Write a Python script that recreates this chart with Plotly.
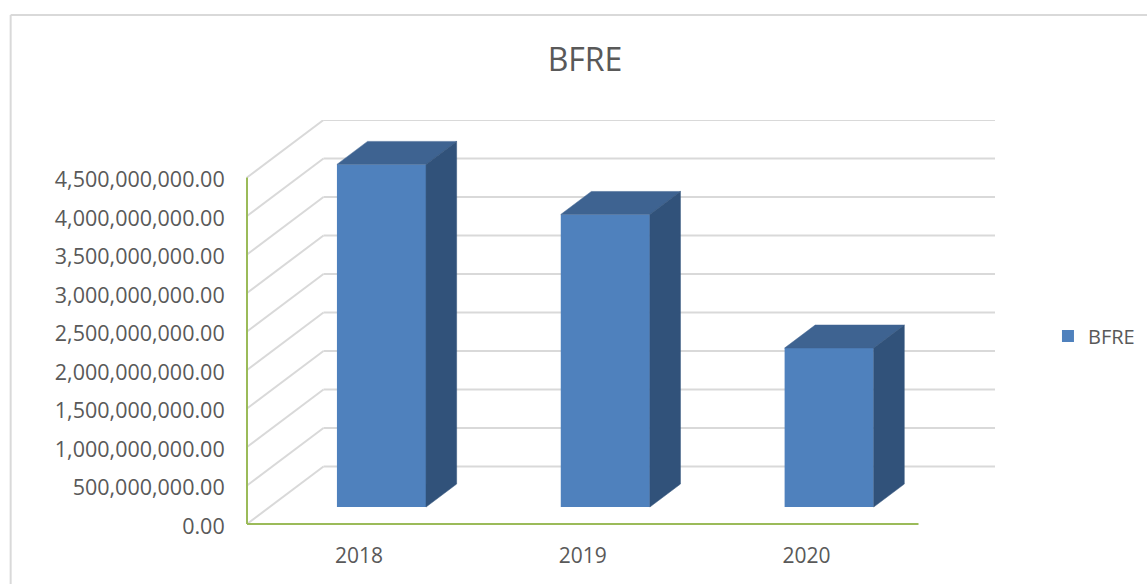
import plotly.graph_objects as go

title = "BFRE"
categories = ["2018", "2019", "2020"]
values = [4.45e9, 3.80e9, 2.065e9]
tick_values = [0, 0.5e9, 1e9, 1.5e9, 2e9, 2.5e9, 3e9, 3.5e9, 4e9, 4.5e9]

W, H = 1147, 584
LEFT, RIGHT, TOP, BOTTOM = 246.5, 995.0, 120.0, 524.0
PAD = 4.0
FRONT_RIGHT = 918.0
TOP_TICK_Y = 177.5
DEPTH_PX_X, DEPTH_PX_Y = 76.5, 57.5

FONT = "Open Sans"
TEXT = "#595959"
GRID = "#D9D9D9"
AXIS = "#9BBB59"
FRONT = "#4F81BD"
TOP_FACE = "#3E6391"
SIDE_FACE = "#31527A"

ncat = len(categories)
unit_x = (FRONT_RIGHT - LEFT) / ncat
unit_y = (BOTTOM - TOP_TICK_Y) / tick_values[-1]
DX = DEPTH_PX_X / unit_x
DY = DEPTH_PX_Y / unit_y
BAR_W = 0.398
D0, D1 = 0.295, 0.695


def proj(x, v, d=0.0):
    return x + d * DX, v + d * DY


xc = [i + 0.5 for i in range(ncat)]
fig = go.Figure()

# front faces
fig.add_trace(go.Bar(
    x=[c + D0 * DX for c in xc], y=values, base=D0 * DY, width=BAR_W, name=title,
    marker=dict(color=FRONT, line=dict(width=0)), showlegend=True, hoverinfo="skip",
))

# top and side faces
for c, v in zip(xc, values):
    l, r = c - BAR_W / 2, c + BAR_W / 2
    top_face = [proj(l, v, D0), proj(r, v, D0), proj(r, v, D1), proj(l, v, D1), proj(l, v, D0)]
    side_face = [proj(r, v, D0), proj(r, v, D1), proj(r, 0, D1), proj(r, 0, D0), proj(r, v, D0)]
    for pts, col in ((top_face, TOP_FACE), (side_face, SIDE_FACE)):
        fig.add_trace(go.Scatter(
            x=[p[0] for p in pts], y=[p[1] for p in pts], mode="lines",
            fill="toself", fillcolor=col, line=dict(width=0.5, color=col),
            showlegend=False, hoverinfo="skip",
        ))

shapes = []
# wall and floor gridlines
for t in tick_values:
    x0, y0 = proj(0, t, 0)
    x1, y1 = proj(0, t, 1)
    x2, y2 = proj(ncat, t, 1)
    for a, b, c_, d in ((x0, y0, x1, y1), (x1, y1, x2, y2)):
        shapes.append(dict(type="line", xref="x", yref="y", x0=a, y0=b, x1=c_, y1=d,
                           layer="below", line=dict(color=GRID, width=2)))
# green axes
shapes.append(dict(type="line", xref="x", yref="y", x0=0, y0=0, x1=0, y1=tick_values[-1],
                   layer="below", line=dict(color=AXIS, width=2)))
shapes.append(dict(type="line", xref="x", yref="y", x0=0, y0=0, x1=ncat, y1=0,
                   layer="below", line=dict(color=AXIS, width=2)))
# chart frame (left and top edges are visible, the rest runs off the picture)
pl, pb = LEFT - PAD, BOTTOM + PAD
pw, ph = RIGHT - pl, pb - TOP
px = lambda v: (v - pl) / pw
py = lambda v: (pb - v) / ph
shapes.append(dict(type="line", xref="paper", yref="paper", x0=px(10), x1=px(10), y0=py(15), y1=py(H + 5),
                   line=dict(color=GRID, width=2)))
shapes.append(dict(type="line", xref="paper", yref="paper", x0=px(10), x1=px(W + 5), y0=py(15), y1=py(15),
                   line=dict(color=GRID, width=2)))

fig.update_layout(
    width=W, height=H, autosize=False,
    margin=dict(l=pl, r=W - RIGHT, t=TOP, b=H - pb, pad=0, autoexpand=False),
    paper_bgcolor="white", plot_bgcolor="white",
    font=dict(family=FONT, color=TEXT),
    title=dict(text=title, xref="container", yref="container", x=585 / W, y=1 - 60 / H,
               xanchor="center", yanchor="middle", font=dict(size=32, color=TEXT, family=FONT)),
    xaxis=dict(range=[-PAD / unit_x, ncat + DX], tickmode="array", tickvals=xc, ticktext=categories,
               showgrid=False, zeroline=False, showline=False, ticks="outside", ticklen=9,
               tickcolor="rgba(0,0,0,0)", tickfont=dict(size=21, color=TEXT, family=FONT)),
    yaxis=dict(range=[-PAD / unit_y, tick_values[-1] + DY], tickmode="array", tickvals=tick_values,
               tickformat=",.2f", showgrid=False, zeroline=False, showline=False,
               ticks="outside", ticklen=13, tickcolor="rgba(0,0,0,0)", ticklabelshift=2,
               tickfont=dict(size=21.5, color=TEXT, family=FONT)),
    legend=dict(x=px(1048), y=py(336), xanchor="left", yanchor="middle",
                font=dict(size=20, color=TEXT, family=FONT), bgcolor="rgba(0,0,0,0)",
                itemclick=False, itemdoubleclick=False),
    showlegend=True,
    shapes=shapes,
)

fig.write_html("out.html", config=dict(displayModeBar=False),
               post_script="document.body.style.margin='0';")
